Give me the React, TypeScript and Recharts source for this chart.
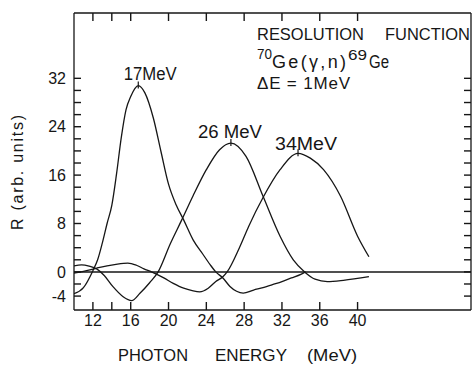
import React from 'react'
import { LineChart, Line, XAxis, YAxis, ReferenceLine } from 'recharts'

const INK = '#161616'
const FONT = '"Liberation Sans", Arial, sans-serif'

// photon energy (MeV) and response R for each resolution function
const energy17 = [10, 11, 12, 12.5, 13, 13.5, 14, 14.5, 15, 15.5, 16, 16.8, 17.5, 18.4, 19.2, 20, 20.8, 21.6, 22.6, 23.6, 24.4, 25, 25.75, 26.5, 27.2, 27.9, 29, 30, 31, 32, 33, 34, 34.5]
const resp17 = [-3.6, -2.6, 0.2, 2.0, 4.8, 8.0, 11.0, 16.2, 22.2, 26.8, 29.0, 30.8, 29.6, 25.4, 19.9, 14.5, 11.1, 8.6, 5.3, 3.0, 1.2, 0, -1.0, -2.4, -3.2, -3.5, -3.0, -2.6, -2.1, -1.6, -1.0, -0.4, 0]

const energy26 = [10, 10.8, 11.6, 12.4, 13.2, 14.1, 15.2, 16.1, 17, 18, 18.9, 20.2, 21.4, 22.6, 24, 25.4, 26.6, 28.2, 30, 31.8, 33.2, 34.4, 35.5, 36.8, 38.5, 41.2]
const resp26 = [1.0, 1.15, 0.95, 0.5, -0.6, -2.4, -4.1, -4.75, -3.5, -1.8, 0, 4.7, 8.6, 12.6, 16.9, 20.2, 21.3, 19.1, 12.5, 5.9, 2.0, 0, -1.2, -1.6, -1.4, -0.8]

const energy34 = [10, 11, 12.35, 13.5, 14.6, 15.7, 16.6, 17.4, 18.2, 19.5, 20.5, 21.6, 22.5, 23.3, 24.2, 25, 25.75, 26.2, 27.5, 28.5, 30, 31.8, 33.7, 35, 36.4, 38.2, 40, 41.2]
const resp34 = [-0.2, 0.1, 0.6, 1.0, 1.3, 1.45, 1.1, 0.5, 0, -1.0, -1.9, -2.7, -3.1, -3.3, -2.7, -1.6, -0.8, 0, 4.0, 7.6, 12.3, 16.9, 19.6, 18.8, 16.9, 12.5, 5.9, 2.5]

const xTicks = [12, 14, 16, 20, 24, 28, 32, 36, 40]
const xLabels = [12, 16, 20, 24, 28, 32, 36, 40]
const yTicks = [-4, -2, 0, 2, 4, 6, 8, 10, 12, 14, 16, 18, 20, 22, 24, 26, 28, 30, 32]
const yLabels = [-4, 0, 8, 16, 24, 32]

const X_DOMAIN = [10, 52]
const Y_DOMAIN = [-6.3, 42.8]

const series17 = energy17.map((e, i) => ({ e, r: resp17[i] }))
const series26 = energy26.map((e, i) => ({ e, r: resp26[i] }))
const series34 = energy34.map((e, i) => ({ e, r: resp34[i] }))

const textStyle = { fontFamily: FONT, fill: INK }
const tickFont = { fontSize: 16, fill: INK, fontFamily: FONT }
const tickStroke = { stroke: INK, strokeWidth: 1.4 }
const axisStroke = { stroke: INK, strokeWidth: 1.3 }

// small tick through the maximum of a curve, with its energy label
const peakDot = (vals: number[], label: string, dx: number, dy: number, w: number) => (props: any) => {
  const { cx, cy, index } = props
  if (vals[index] !== Math.max(...vals)) return <g key={`d-${index}`} />
  return (
    <g key={`d-${index}`}>
      <line x1={cx} y1={cy - 4} x2={cx} y2={cy + 3} stroke={INK} strokeWidth={1.2} />
      <text x={cx + dx} y={cy + dy} textAnchor="middle" fontSize={18} textLength={w} lengthAdjust="spacingAndGlyphs" style={textStyle}>
        {label}
      </text>
    </g>
  )
}

export default function App() {
  return (
    <div style={{ position: 'absolute', left: 0, top: 0, width: 472, height: 366, background: '#fff' }}>
      <LineChart width={472} height={366} margin={{ top: 0, right: 0, bottom: 0, left: 0 }}>
        <XAxis
          xAxisId="bottom"
          dataKey="e"
          type="number"
          domain={X_DOMAIN}
          ticks={xTicks}
          interval={0}
          height={56}
          tickSize={-8}
          tickMargin={13}
          tickLine={tickStroke}
          tick={tickFont}
          tickFormatter={(v: number) => (xLabels.includes(v) ? String(v) : '')}
          axisLine={axisStroke}
          allowDataOverflow
        />
        <XAxis
          xAxisId="top"
          orientation="top"
          dataKey="e"
          type="number"
          domain={X_DOMAIN}
          ticks={xTicks}
          interval={0}
          height={13}
          tickSize={-8}
          tickLine={tickStroke}
          tickFormatter={() => ''}
          axisLine={axisStroke}
          allowDataOverflow
        />
        <YAxis
          yAxisId="left"
          type="number"
          domain={Y_DOMAIN}
          ticks={yTicks}
          interval={0}
          width={74}
          tickSize={-7}
          tickMargin={15}
          tickLine={tickStroke}
          tick={tickFont}
          tickFormatter={(v: number) => (yLabels.includes(v) ? String(v) : '')}
          axisLine={axisStroke}
          allowDataOverflow
        />
        <YAxis
          yAxisId="right"
          orientation="right"
          type="number"
          domain={Y_DOMAIN}
          ticks={yTicks}
          interval={0}
          width={1}
          tickSize={-7}
          tickLine={tickStroke}
          tickFormatter={() => ''}
          axisLine={axisStroke}
          allowDataOverflow
        />
        <ReferenceLine xAxisId="bottom" yAxisId="left" y={0} stroke={INK} strokeWidth={1.5} />
        <Line xAxisId="bottom" yAxisId="left" data={series17} dataKey="r" type="monotone" stroke={INK} strokeWidth={1.3}
          dot={peakDot(resp17, '17MeV', 12, -6, 53)} activeDot={false} isAnimationActive={false} />
        <Line xAxisId="bottom" yAxisId="left" data={series26} dataKey="r" type="monotone" stroke={INK} strokeWidth={1.3}
          dot={peakDot(resp26, '26 MeV', -1, -5.5, 64)} activeDot={false} isAnimationActive={false} />
        {/* same domains as bottom/left; bound to top/right so those frame axes get their ticks */}
        <Line xAxisId="top" yAxisId="right" data={series34} dataKey="r" type="monotone" stroke={INK} strokeWidth={1.3}
          dot={peakDot(resp34, '34MeV', 8, -3, 62)} activeDot={false} isAnimationActive={false} />
      </LineChart>
      <svg width={472} height={366} style={{ position: 'absolute', left: 0, top: 0, pointerEvents: 'none' }}>
        <g style={textStyle}>
          <text x={257} y={40} fontSize={17} textLength={107} lengthAdjust="spacingAndGlyphs">RESOLUTION</text>
          <text x={385} y={40} fontSize={17} textLength={85} lengthAdjust="spacingAndGlyphs">FUNCTION</text>
          <text x={257} y={58.5} fontSize={15} textLength={15} lengthAdjust="spacingAndGlyphs">70</text>
          <text x={272} y={67.5} fontSize={18} textLength={74} lengthAdjust="spacing">Ge(γ,n)</text>
          <text x={348} y={60} fontSize={15} textLength={19} lengthAdjust="spacingAndGlyphs">69</text>
          <text x={369} y={68} fontSize={18} textLength={20} lengthAdjust="spacingAndGlyphs">Ge</text>
          <text x={257} y={88.5} fontSize={17} textLength={93} lengthAdjust="spacing">ΔE = 1MeV</text>
          <text x={23} y={172.5} fontSize={16} textAnchor="middle" textLength={115} lengthAdjust="spacing"
            transform="rotate(-90 23 172.5)">R (arb. units)</text>
          <text x={118} y={361} fontSize={17} textLength={70} lengthAdjust="spacingAndGlyphs">PHOTON</text>
          <text x={215} y={361} fontSize={17} textLength={72} lengthAdjust="spacingAndGlyphs">ENERGY</text>
          <text x={307} y={361} fontSize={17} textLength={50} lengthAdjust="spacingAndGlyphs">(MeV)</text>
        </g>
      </svg>
    </div>
  )
}
